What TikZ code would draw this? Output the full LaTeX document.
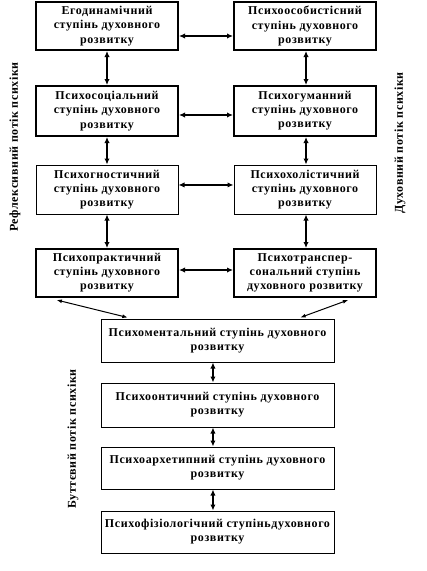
\documentclass[tikz,border=0pt]{standalone}
\usepackage{fontspec}
\setmainfont{Liberation Serif}[LetterSpace=5]
\usetikzlibrary{arrows.meta,calc}
\tikzset{
  px/.style={x=0.75pt,y=-0.75pt},
  stage/.style={draw,line width=1.5pt,align=center,inner sep=0pt,
    font=\bfseries\fontsize{9}{10.6}\selectfont},
  stagethin/.style={stage,line width=0.75pt},
  wide/.style={stagethin,minimum width=174.75pt},
  dbl/.style={{Latex[length=4.5pt,width=4pt]}-{Latex[length=4.5pt,width=4pt]},line width=1.6pt},
  dblthin/.style={{Latex[length=4pt,width=3pt]}-{Latex[length=4pt,width=3pt]},line width=0.75pt},
  side/.style={rotate=90,font=\bfseries\fontsize{9}{10}\selectfont}
}
\begin{document}
\begin{tikzpicture}[px]
\useasboundingbox (0,0) rectangle (427,571);
% top grid
\node[stage,minimum width=106.5pt,minimum height=36pt] (L1) at (107,26) {Егодинамічний\\ступінь духовного\\розвитку};
\node[stage,minimum width=106.5pt,minimum height=36pt] (R1) at (305,26) {Психоособистісний\\ступінь духовного\\розвитку};
\node[stage,minimum width=106.5pt,minimum height=37.5pt] (L2) at (107,111) {Психосоціальний\\ступінь духовного\\розвитку};
\node[stage,minimum width=106.5pt,minimum height=37.5pt] (R2) at (305,111) {Психогуманний\\ступінь духовного\\розвитку};
\node[stagethin,minimum width=106.5pt,minimum height=36.75pt] (L3) at (107,189.5) {Психогностичний\\ступінь духовного\\розвитку};
\node[stagethin,minimum width=106.5pt,minimum height=36.75pt] (R3) at (305,189.5) {Психохолістичний\\ступінь духовного\\розвитку};
\node[stage,minimum width=106.5pt,minimum height=36pt] (L4) at (107,273) {Психопрактичний\\ступінь духовного\\розвитку};
\node[stage,minimum width=106.5pt,minimum height=36pt] (R4) at (305,273) {Психотранспер-\\сональний ступінь\\духовного розвитку};
% bottom column
\node[wide,minimum height=32.25pt] (M1) at (217.5,340.5) {Психоментальний ступінь духовного\\розвитку};
\node[wide,minimum height=33pt] (M2) at (217.5,405) {Психоонтичний ступінь духовного\\розвитку};
\node[wide,minimum height=31.5pt] (M3) at (217.5,468) {Психоархетипний ступінь духовного\\розвитку};
\node[wide,minimum height=31.5pt] (M4) at (217.5,532) {Психофізіологічний ступіньдуховного\\розвитку};
% side labels
\node[side] (S1) at (15,147) {Рефлексивний потік психіки};
\node[side] (S2) at (400,143) {Духовний потік психіки};
\node[side] (S3) at (73,439) {Буттєвий потік психіки};
% horizontal arrows
\draw[dbl] ([yshift=-7.5pt]L1.east) -- ([yshift=-7.5pt]R1.west);
\draw[dbl] ([yshift=-3pt]L2.east) -- ([yshift=-3pt]R2.west);
\draw[dbl] ([yshift=3.4pt]L3.east) -- ([yshift=3.4pt]R3.west);
\draw[dbl] ([yshift=2.25pt]L4.east) -- ([yshift=2.25pt]R4.west);
% vertical arrows
\draw[dbl] (L1.south) -- (L2.north);
\draw[dbl] (L2.south) -- (L3.north);
\draw[dbl] (L3.south) -- (L4.north);
\draw[dbl] ([xshift=0.75pt]R1.south) -- ([xshift=0.75pt]R2.north);
\draw[dbl] ([xshift=0.75pt]R2.south) -- ([xshift=0.75pt]R3.north);
\draw[dbl] ([xshift=0.75pt]R3.south) -- ([xshift=0.75pt]R4.north);
\draw[dbl] ([xshift=-3.4pt]M1.south) -- ([xshift=-3.4pt]M2.north);
\draw[dbl] ([xshift=-3.4pt]M2.south) -- ([xshift=-3.4pt]M3.north);
\draw[dbl] ([xshift=-3.4pt]M3.south) -- ([xshift=-3.4pt]M4.north);
% diagonal arrows
\draw[dblthin] ([yshift=-1.5pt]$(L4.south west)!0.15!(L4.south east)$) -- ([yshift=0.75pt]$(M1.north west)!0.116!(M1.north east)$);
\draw[dblthin] ([yshift=-1.5pt]$(R4.south west)!0.8!(R4.south east)$) -- ([yshift=0.75pt]$(M1.north west)!0.854!(M1.north east)$);
\end{tikzpicture}
\end{document}
